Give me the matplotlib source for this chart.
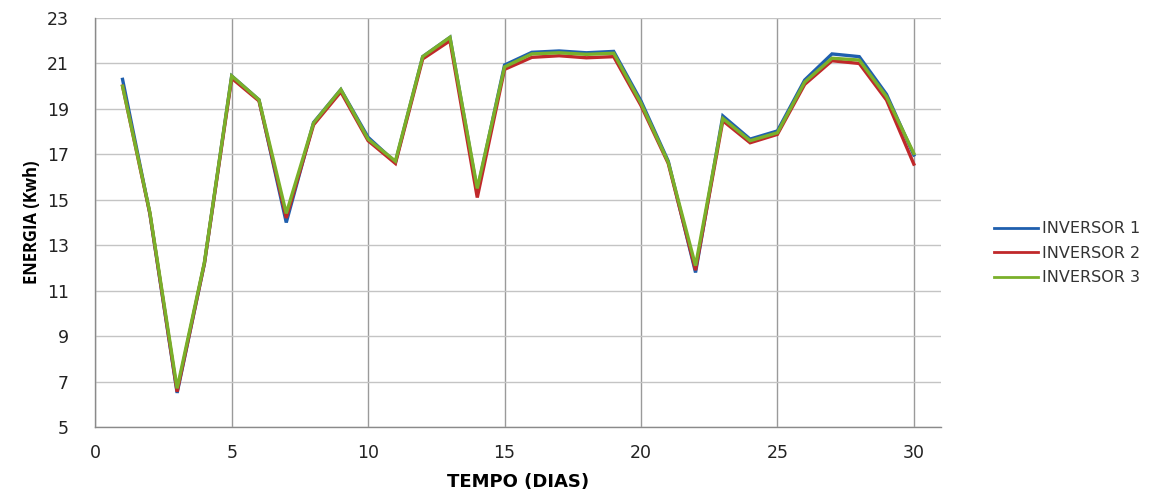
import matplotlib.pyplot as plt

dias = list(range(1, 31))

inversor1 = [20.3, 14.4, 6.5, 12.2, 20.45, 19.4, 14.0, 18.4, 19.85, 17.75,
             16.65, 21.3, 22.15, 15.4, 20.93, 21.49, 21.55, 21.47, 21.53, 19.35,
             16.7, 11.8, 18.69, 17.67, 18.03, 20.27, 21.42, 21.3, 19.64, 16.97]
inversor2 = [20.0, 14.4, 6.55, 12.2, 20.35, 19.35, 14.2, 18.3, 19.75, 17.6,
             16.6, 21.2, 22.0, 15.1, 20.74, 21.27, 21.34, 21.25, 21.3, 19.15,
             16.6, 11.9, 18.48, 17.51, 17.88, 20.08, 21.12, 21.0, 19.39, 16.57]
inversor3 = [20.0, 14.45, 6.7, 12.25, 20.45, 19.4, 14.4, 18.38, 19.85, 17.67,
             16.7, 21.3, 22.15, 15.5, 20.85, 21.42, 21.47, 21.4, 21.45, 19.25,
             16.65, 12.1, 18.58, 17.6, 17.95, 20.18, 21.23, 21.15, 19.54, 17.04]

series = [("INVERSOR 1", inversor1, "#1f5fae"),
          ("INVERSOR 2", inversor2, "#c0282a"),
          ("INVERSOR 3", inversor3, "#7ab02a")]

fig = plt.figure(figsize=(11.59, 4.95), dpi=100)
ax = fig.add_axes([0.0822, 0.1374, 0.812 - 0.0822, 0.9636 - 0.1374])

for nome, valores, cor in series:
    ax.plot(dias, valores, color=cor, linewidth=2.4, label=nome,
            solid_joinstyle="miter")

ax.set_xlim(0, 31)
ax.set_ylim(5, 23)
ax.set_xticks(range(0, 31, 5))
ax.set_yticks(range(5, 24, 2))

ax.grid(axis="x", color="#9a9a9a", linewidth=1)
ax.grid(axis="y", color="#c4c4c4", linewidth=1)
ax.set_axisbelow(True)

for lado in ["top", "right"]:
    ax.spines[lado].set_visible(False)
for lado in ["left", "bottom"]:
    ax.spines[lado].set_color("#8a8a8a")
    ax.spines[lado].set_linewidth(1)

ax.tick_params(length=0, labelsize=12.5, colors="#222222")
ax.tick_params(axis="x", pad=12)
ax.tick_params(axis="y", pad=19)

ax.set_xlabel("TEMPO (DIAS)", fontsize=13, fontweight="bold",
              family="DejaVu Sans", labelpad=8)
ax.set_ylabel("ENERGIA (Kwh)", fontsize=12, fontweight="bold",
              family="Open Sans", labelpad=4)

leg = ax.legend(loc="center left", bbox_to_anchor=(1.045, 0.425), frameon=False,
                fontsize=11.5, handlelength=2.8, handletextpad=0.25,
                labelspacing=0.6, labelcolor="#333333")
for linha in leg.get_lines():
    linha.set_linewidth(2)

fig.savefig("out.png", dpi=100)
